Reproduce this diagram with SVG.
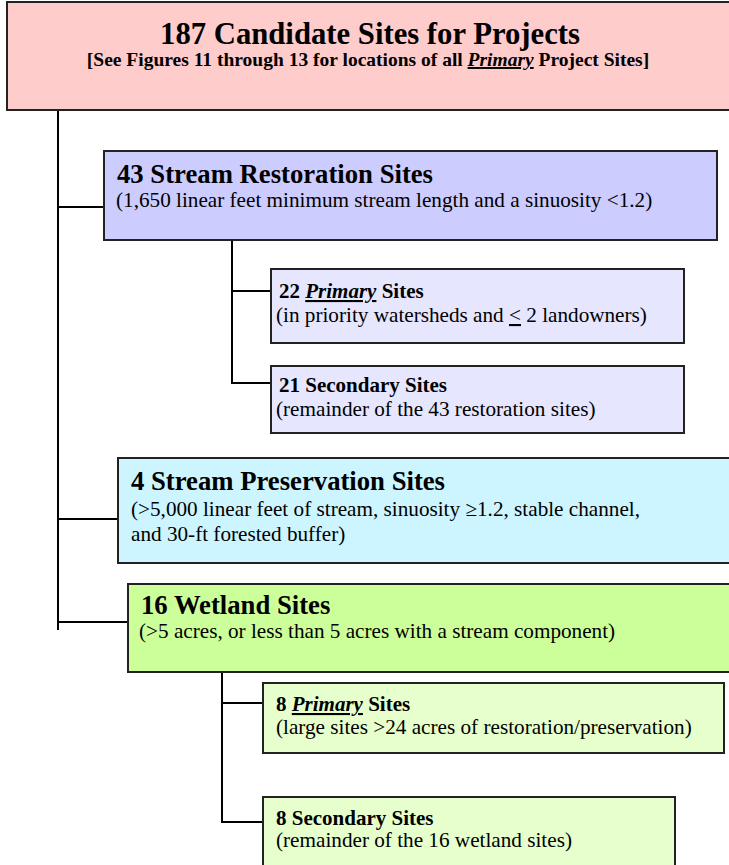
<svg xmlns="http://www.w3.org/2000/svg" width="729" height="865" viewBox="0 0 729 865">
<style>
text{font-family:"Liberation Serif","Times New Roman",serif;fill:#000}
.box{stroke:#222;stroke-width:2}
.h1{font-size:30.7px;font-weight:bold}
.h0{font-size:19.5px;font-weight:bold}
.h2{font-size:26.7px;font-weight:bold}
.h3{font-size:21px;font-weight:bold}
.t{font-size:21.2px}
.u{text-decoration:underline}
.conn line{stroke:#000;stroke-width:2}
</style>
<rect width="729" height="865" fill="#fff"/>
<g id="connectors" class="conn">
<line x1="58" y1="110" x2="58" y2="630"/>
<line x1="58" y1="207" x2="104" y2="207"/>
<line x1="58" y1="519" x2="118" y2="519"/>
<line x1="58" y1="622" x2="128" y2="622"/>
<line x1="232" y1="240" x2="232" y2="384"/>
<line x1="232" y1="291" x2="271" y2="291"/>
<line x1="232" y1="383" x2="271" y2="383"/>
<line x1="222" y1="672" x2="222" y2="823"/>
<line x1="222" y1="703" x2="263" y2="703"/>
<line x1="222" y1="822" x2="263" y2="822"/>
</g>
<g id="root">
<rect class="box" x="7" y="2" width="740" height="108" fill="#ffcccc"/>
<text class="h1" x="370" y="44" text-anchor="middle">187 Candidate Sites for Projects</text>
<text class="h0" x="368" y="66" text-anchor="middle">[See Figures 11 through 13 for locations of all <tspan font-style="italic" class="u">Primary</tspan> Project Sites]</text>
</g>
<g id="restoration">
<rect class="box" x="104" y="151" width="613" height="89" fill="#ccccff"/>
<text class="h2" x="117" y="183">43 Stream Restoration Sites</text>
<text class="t" x="116" y="207">(1,650 linear feet minimum stream length and a sinuosity &lt;1.2)</text>
</g>
<g id="restoration-primary">
<rect class="box" x="271" y="269" width="413" height="74" fill="#e6e6ff"/>
<text class="h3" x="279" y="298">22 <tspan font-style="italic" class="u">Primary</tspan> Sites</text>
<text class="t" x="276" y="322">(in priority watersheds and <tspan class="u">&lt;</tspan> 2 landowners)</text>
</g>
<g id="restoration-secondary">
<rect class="box" x="271" y="366" width="413" height="67" fill="#e6e6ff"/>
<text class="h3" x="279" y="392">21 Secondary Sites</text>
<text class="t" x="276" y="416">(remainder of the 43 restoration sites)</text>
</g>
<g id="preservation">
<rect class="box" x="118" y="458" width="630" height="105" fill="#ccf5ff"/>
<text class="h2" x="131" y="490">4 Stream Preservation Sites</text>
<text class="t" x="131" y="516">(&gt;5,000 linear feet of stream, sinuosity ≥1.2, stable channel,</text>
<text class="t" x="131" y="541">and 30-ft forested buffer)</text>
</g>
<g id="wetland">
<rect class="box" x="128" y="584" width="620" height="88" fill="#ccff99"/>
<text class="h2" x="141" y="614">16 Wetland Sites</text>
<text class="t" x="139" y="638">(&gt;5 acres, or less than 5 acres with a stream component)</text>
</g>
<g id="wetland-primary">
<rect class="box" x="263" y="683" width="461" height="70" fill="#e6ffcc"/>
<text class="h3" x="276" y="711">8 <tspan font-style="italic" class="u">Primary</tspan> Sites</text>
<text class="t" x="276" y="734">(large sites &gt;24 acres of restoration/preservation)</text>
</g>
<g id="wetland-secondary">
<rect class="box" x="263" y="797" width="412" height="80" fill="#e6ffcc"/>
<text class="h3" x="276" y="825">8 Secondary Sites</text>
<text class="t" x="276" y="847">(remainder of the 16 wetland sites)</text>
</g>
</svg>
